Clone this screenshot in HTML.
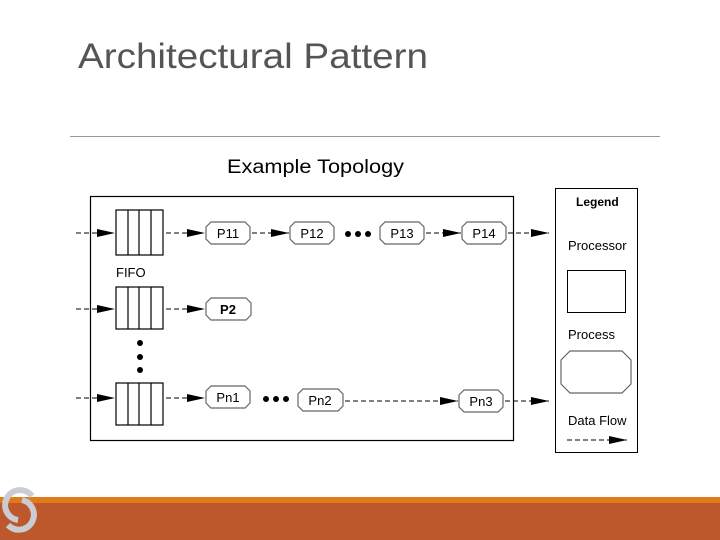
<!DOCTYPE html>
<html><head><meta charset="utf-8"><style>body{margin:0;background:#fff}svg{display:block}</style></head><body>
<svg width="720" height="540" viewBox="0 0 720 540" xmlns="http://www.w3.org/2000/svg" font-family="Liberation Sans, Arial, sans-serif">
<defs><marker id="a" markerWidth="18" markerHeight="10" refX="18" refY="5" orient="auto" markerUnits="userSpaceOnUse"><path d="M0,1 L18,5 L0,9 Z" fill="#000"/></marker></defs>
<text x="78" y="68" font-size="35" fill="#555" textLength="350" lengthAdjust="spacingAndGlyphs">Architectural Pattern</text>
<line x1="70" y1="136.5" x2="660" y2="136.5" stroke="#999" stroke-width="1"/>
<text x="227" y="173" font-size="19" fill="#000" textLength="177" lengthAdjust="spacingAndGlyphs">Example Topology</text>
<rect x="90.5" y="196.5" width="423" height="244" fill="none" stroke="#000" stroke-width="1.2"/>
<rect x="555.5" y="188.5" width="82" height="264" fill="none" stroke="#000" stroke-width="1"/>
<g stroke="#000" stroke-width="1.2" fill="none">
<rect x="116" y="210" width="47" height="45"/><line x1="128" y1="210" x2="128" y2="255"/><line x1="139" y1="210" x2="139" y2="255"/><line x1="151" y1="210" x2="151" y2="255"/>
<rect x="116" y="287" width="47" height="42"/><line x1="128" y1="287" x2="128" y2="329"/><line x1="139" y1="287" x2="139" y2="329"/><line x1="151" y1="287" x2="151" y2="329"/>
<rect x="116" y="383" width="47" height="42"/><line x1="128" y1="383" x2="128" y2="425"/><line x1="139" y1="383" x2="139" y2="425"/><line x1="151" y1="383" x2="151" y2="425"/>
</g>
<g stroke="#000" stroke-width="1" stroke-dasharray="5,3" fill="none" marker-end="url(#a)">
<line x1="76" y1="233" x2="115" y2="233"/><line x1="166" y1="233" x2="205" y2="233"/><line x1="252" y1="233" x2="289" y2="233"/><line x1="426" y1="233" x2="461" y2="233"/><line x1="508" y1="233" x2="549" y2="233"/>
<line x1="76" y1="309" x2="115" y2="309"/><line x1="166" y1="309" x2="205" y2="309"/>
<line x1="76" y1="398" x2="115" y2="398"/><line x1="166" y1="398" x2="205" y2="398"/><line x1="345" y1="401" x2="458" y2="401"/><line x1="505" y1="401" x2="549" y2="401"/>
<line x1="567" y1="440" x2="627" y2="440"/>
</g>
<g fill="#fff" stroke="#666" stroke-width="1.2">
<polygon points="211,222 245,222 250,227 250,239 245,244 211,244 206,239 206,227"/>
<polygon points="295,222 329,222 334,227 334,239 329,244 295,244 290,239 290,227"/>
<polygon points="385,222 419,222 424,227 424,239 419,244 385,244 380,239 380,227"/>
<polygon points="467,222 501,222 506,227 506,239 501,244 467,244 462,239 462,227"/>
<polygon points="211,298 246,298 251,303 251,315 246,320 211,320 206,315 206,303"/>
<polygon points="211,386 245,386 250,391 250,403 245,408 211,408 206,403 206,391"/>
<polygon points="303,389 338,389 343,394 343,406 338,411 303,411 298,406 298,394"/>
<polygon points="464,390 498,390 503,395 503,407 498,412 464,412 459,407 459,395"/>
<polygon points="570,351 622,351 631,360 631,384 622,393 570,393 561,384 561,360"/>
</g>
<rect x="567.5" y="270.5" width="58" height="42" fill="none" stroke="#000"/>
<g font-size="13" fill="#000" text-anchor="middle">
<text x="228" y="238">P11</text><text x="312" y="238">P12</text><text x="402" y="238">P13</text><text x="484" y="238">P14</text>
<text x="228" y="314" font-weight="bold">P2</text><text x="228" y="402">Pn1</text><text x="320" y="405">Pn2</text><text x="481" y="406">Pn3</text>
</g>
<text x="116" y="277" font-size="13">FIFO</text>
<g font-size="13" fill="#000"><text x="576" y="206" font-size="12" font-weight="bold">Legend</text><text x="568" y="250">Processor</text><text x="568" y="339">Process</text><text x="568" y="425">Data Flow</text></g>
<g fill="#000"><circle cx="348" cy="234" r="3"/><circle cx="358" cy="234" r="3"/><circle cx="368" cy="234" r="3"/>
<circle cx="266" cy="399" r="3"/><circle cx="276" cy="399" r="3"/><circle cx="286" cy="399" r="3"/>
<circle cx="140" cy="343" r="3"/><circle cx="140" cy="357" r="3"/><circle cx="140" cy="370" r="3"/></g>
<rect x="0" y="497" width="720" height="6" fill="#e07b1a"/>
<rect x="0" y="503" width="720" height="37" fill="#bd582c"/>
<g fill="none" stroke="#c9ccd3" stroke-width="6"><path d="M32,496 A15,15 0 1 0 18,520"/><path d="M8,525 A15,15 0 1 0 22,500"/></g>
</svg>
</body></html>
